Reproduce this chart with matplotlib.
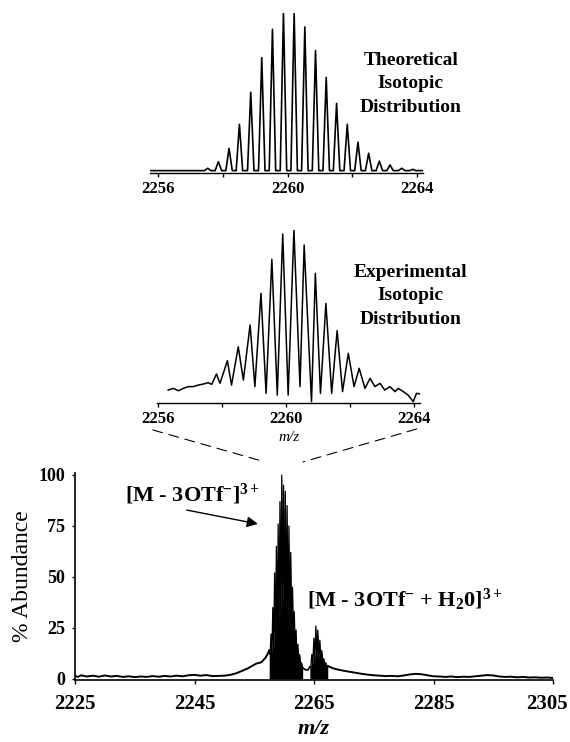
import numpy as np
import matplotlib.pyplot as plt
from matplotlib.patches import ConnectionPatch
from matplotlib.transforms import ScaledTranslation

plt.rcParams['font.family'] = ['Liberation Serif', 'DejaVu Serif']
plt.rcParams['mathtext.fontset'] = 'custom'
plt.rcParams['mathtext.rm'] = 'Liberation Serif'
plt.rcParams['mathtext.bf'] = 'Liberation Serif:bold'
plt.rcParams['mathtext.it'] = 'Liberation Serif:italic'

# theoretical isotope pattern of the 3+ ion (relative intensity)
theo_mz = [2257.53, 2257.86, 2258.19, 2258.51, 2258.86, 2259.20, 2259.53,
           2259.87, 2260.20, 2260.53, 2260.86, 2261.19, 2261.51, 2261.84,
           2262.17, 2262.50, 2262.83, 2263.16, 2263.52, 2263.86]
theo_int = [0.015, 0.057, 0.141, 0.293, 0.496, 0.715, 0.895, 1.0, 1.0, 0.91,
            0.76, 0.59, 0.426, 0.293, 0.18, 0.11, 0.06, 0.036, 0.015, 0.008]

# experimental trace in the zoom window (peak tops and valleys, % abundance)
exp_mz = [2256.32, 2256.48, 2256.64, 2256.79, 2256.95, 2257.10, 2257.26,
          2257.42, 2257.57, 2257.68, 2257.83, 2257.94, 2258.17, 2258.30,
          2258.51, 2258.67, 2258.88, 2259.03, 2259.22, 2259.38, 2259.56,
          2259.73, 2259.90, 2260.07, 2260.25, 2260.44, 2260.57, 2260.80,
          2260.92, 2261.08, 2261.25, 2261.43, 2261.60, 2261.77, 2261.95,
          2262.13, 2262.29, 2262.47, 2262.63, 2262.78, 2262.94, 2263.09,
          2263.25, 2263.41, 2263.51, 2263.67, 2263.82, 2263.98, 2264.08,
          2264.24, 2264.34]
exp_int = [7.3, 8.3, 6.9, 8.3, 9.3, 9.3, 10.2, 10.8, 11.6, 10.6, 16.6, 11.2,
           24.3, 10.2, 32.4, 13.1, 45.0, 9.3, 63.3, 5.4, 83.0, 4.4, 97.7, 4.4,
           100.0, 9.3, 91.3, 0.6, 74.9, 5.4, 57.5, 5.4, 41.7, 6.4, 28.6, 9.3,
           19.9, 8.3, 14.1, 9.3, 11.2, 7.3, 9.3, 6.4, 8.3, 6.4, 4.4, 0.6, 5.4,
           5.0, 5.8]

# full spectrum, baseline before the main cluster
left_mz = [2225, 2225.5, 2226, 2227, 2228, 2229, 2230, 2231, 2232, 2233, 2234,
           2235, 2236, 2237, 2238, 2239, 2240, 2241, 2242, 2243, 2244, 2245,
           2246, 2247, 2248, 2249, 2250, 2251, 2252, 2253, 2254, 2254.7,
           2255.4, 2256.0]
left_int = [1.5, 1.0, 1.8, 1.2, 1.6, 1.1, 1.7, 1.2, 1.5, 1.0, 1.3, 0.9, 1.2,
            1.0, 1.4, 1.1, 1.5, 1.2, 1.6, 1.3, 1.8, 2.0, 1.6, 1.9, 1.4, 1.5,
            1.6, 2.0, 2.8, 4.0, 5.3, 6.5, 7.6, 8.0]

# full spectrum, main [M - 3OTf]3+ cluster (tops and valleys)
main_mz = [2256.3, 2256.6, 2256.9, 2257.2, 2257.5, 2257.65, 2257.8, 2257.95,
           2258.1, 2258.25, 2258.4, 2258.55, 2258.7, 2258.85, 2259.0,
           2259.15, 2259.3, 2259.45, 2259.6, 2259.75, 2259.9, 2260.05,
           2260.2, 2260.35, 2260.5, 2260.65, 2260.8, 2260.95, 2261.1,
           2261.25, 2261.4, 2261.55, 2261.7, 2261.85, 2262.0, 2262.15,
           2262.3, 2262.45, 2262.6, 2262.75, 2262.9, 2263.1, 2263.4, 2263.7]
main_int = [8.5, 9.5, 10.5, 12, 14, 12, 22, 12, 35, 14, 52, 18, 65, 22, 76,
            26, 87, 30, 100, 34, 95, 32, 92, 30, 85, 27, 75, 24, 62, 20, 45,
            15, 33, 11, 24, 9, 17, 7, 12, 6.5, 8, 5.5, 4.8, 4.4]

# full spectrum, water adduct cluster
adduct_mz = [2264.0, 2264.3, 2264.47, 2264.63, 2264.80, 2264.97, 2265.13,
             2265.30, 2265.47, 2265.63, 2265.80, 2265.97, 2266.13, 2266.30,
             2266.47, 2266.63, 2266.80, 2266.97, 2267.13, 2267.30]
adduct_int = [4.4, 6, 6, 12, 7, 20, 9, 26, 10, 24, 10, 19, 9, 14, 8, 10,
              7, 8, 6.5, 6.3]

# full spectrum, tail after the adduct
right_mz = [2267.6, 2268.2, 2269, 2270, 2271, 2272, 2273, 2274, 2275, 2276,
            2277, 2278, 2279, 2280, 2281, 2282, 2283, 2284, 2285, 2286, 2287,
            2288, 2289, 2290, 2291, 2292, 2293, 2294, 2295, 2296, 2297, 2298,
            2299, 2300, 2301, 2302, 2303, 2304, 2305]
right_int = [6.0, 5.2, 4.6, 4.0, 3.5, 3.0, 2.5, 2.1, 1.8, 1.6, 1.4, 1.5, 1.3,
             1.7, 2.2, 2.5, 2.3, 1.8, 1.3, 1.2, 1.0, 1.2, 0.9, 1.1, 1.0, 1.3,
             1.6, 1.9, 1.7, 1.2, 1.0, 1.1, 0.8, 1.0, 0.7, 0.8, 0.6, 0.7, 0.5]

zoom_ticks = [2256, 2258, 2260, 2262, 2264]
zoom_labels = ['2256', '', '2260', '', '2264']
main_xticks = [2225, 2245, 2265, 2285, 2305]
main_yticks = [0, 25, 50, 75, 100]

fig = plt.figure(figsize=(5.7, 7.42), dpi=100)

# theoretical panel
ax_t = fig.add_axes([0.2632, 0.7675, 0.479, 0.2154])
hw = 0.1
tx = [2255.75]
ty = [0]
for m, h in zip(theo_mz, theo_int):
    tx += [m - hw, m, m + hw]
    ty += [0, h, 0]
tx.append(2264.18)
ty.append(0)
ax_t.plot(tx, ty, color='black', lw=1.2)
ax_t.set_xlim(2255.75, 2264.18)
ax_t.set_ylim(-0.012, 1.0)
ax_t.text(2263.8, 0.55, 'Theoretical\nIsotopic\nDistribution', ha='center',
          va='center', fontsize=14, fontweight='bold', linespacing=1.5)

# experimental panel
ax_e = fig.add_axes([0.2754, 0.4573, 0.4614, 0.2327])
ax_e.plot(exp_mz, exp_int, color='black', lw=1.1)
ax_e.set_xlim(2255.97, 2264.19)
ax_e.set_ylim(0, 100)
ax_e.text(2263.9, 62, 'Experimental\nIsotopic\nDistribution', ha='center',
          va='center', fontsize=14, fontweight='bold', linespacing=1.5)
ax_e.text(2260.1, -20, 'm/z', ha='center', va='center', fontsize=11,
          fontstyle='italic')

for ax in (ax_t, ax_e):
    for s in ('left', 'right', 'top'):
        ax.spines[s].set_visible(False)
    ax.spines['bottom'].set_linewidth(1.0)
    ax.set_yticks([])
    ax.set_xticks(zoom_ticks)
    ax.set_xticklabels(zoom_labels, fontsize=12, fontweight='bold')
    ax.tick_params(axis='x', direction='out', length=3, width=1, pad=3)
    ax.patch.set_visible(False)

# full spectrum
ax_m = fig.add_axes([0.1316, 0.0836, 0.8386, 0.279])
ax_m.plot(left_mz + main_mz[:5], left_int + main_int[:5], color='black',
          lw=1.4)
ax_m.plot(main_mz[-3:] + adduct_mz[:2], main_int[-3:] + adduct_int[:2],
          color='black', lw=1.2)
ax_m.plot(adduct_mz[-1:] + right_mz, adduct_int[-1:] + right_int,
          color='black', lw=1.4)
ax_m.plot(main_mz[4:-2], main_int[4:-2], color='black', lw=0.9)
ax_m.plot(adduct_mz[1:], adduct_int[1:], color='black', lw=0.9)
ax_m.fill_between(main_mz[4:-2], main_int[4:-2], 0, color='black', lw=0)
ax_m.fill_between(adduct_mz[1:], adduct_int[1:], 0, color='black', lw=0)
ax_m.set_xlim(2225, 2305)
ax_m.set_ylim(-0.5, 101)
for s in ('right', 'top'):
    ax_m.spines[s].set_visible(False)
ax_m.spines['left'].set_linewidth(1.2)
ax_m.spines['bottom'].set_linewidth(1.2)
ax_m.set_xticks(main_xticks)
ax_m.set_xticklabels([str(v) for v in main_xticks], fontsize=15,
                     fontweight='bold')
ax_m.set_yticks(main_yticks)
ax_m.set_yticklabels([str(v) for v in main_yticks], fontsize=13,
                     fontweight='bold')
ax_m.tick_params(axis='x', direction='out', length=3, width=1, pad=7)
ax_m.tick_params(axis='y', direction='out', length=2, width=1, pad=5)
last = ax_m.get_xticklabels()[-1]
last.set_transform(last.get_transform() +
                   ScaledTranslation(-6 / 100, 0, fig.dpi_scale_trans))
ax_m.set_ylabel('% Abundance', fontsize=17, labelpad=4)
ax_m.set_xlabel('m/z', fontsize=16, fontweight='bold', fontstyle='italic',
                labelpad=4)

ax_m.text(2233.4, 87.3, r'[M - 3OTf$^{\mathbf{-}}$]$^{\mathbf{3+}}$',
          fontsize=16, fontweight='bold', ha='left', va='baseline')
ax_m.annotate('', xy=(2255.6, 76), xytext=(2243.7, 82.8),
              arrowprops=dict(arrowstyle='-|>', color='black', lw=1.0,
                              mutation_scale=16, shrinkA=0, shrinkB=0))
ax_m.text(2263.8, 35.3,
          r'[M - 3OTf$^{\mathbf{-}}$ + H$_{\mathbf{2}}$0]$^{\mathbf{3+}}$',
          fontsize=16, fontweight='bold', ha='left', va='baseline')

# dashed zoom connectors
for xa, ya, xb in ((2255.84, -15.8, 2256.8), (2264.09, -15.2, 2263.16)):
    con = ConnectionPatch(xyA=(xa, ya), coordsA=ax_e.transData,
                          xyB=(xb, 106.4), coordsB=ax_m.transData,
                          color='black', lw=0.8, linestyle=(0, (9, 6)))
    fig.add_artist(con)

fig.savefig('out.png', dpi=100)
